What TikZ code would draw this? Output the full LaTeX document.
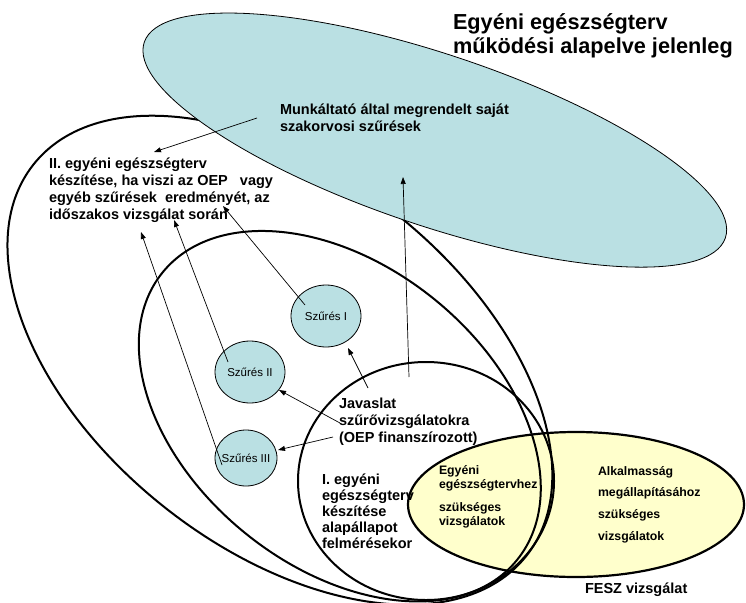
\documentclass[tikz,border=0pt]{standalone}
\usepackage{fontspec}
\setmainfont{Liberation Sans}
\usetikzlibrary{arrows.meta,shapes.geometric}
\definecolor{bluefill}{RGB}{186,224,227}
\definecolor{yelfill}{RGB}{255,255,204}
\newcommand\mlines[2]{\vtop{\baselineskip=#1\lineskiplimit=-100pt\lineskip=0pt\relax #2}}
\begin{document}
\begin{tikzpicture}[x=1pt,y=-1pt,
  every node/.style={inner sep=0pt,outer sep=0pt},
  bigring/.style={draw=black,line width=2pt},
  bluering/.style={fill=bluefill,draw=black,line width=0.8pt},
  yelring/.style={fill=yelfill,draw=black,line width=2.2pt},
  szcirc/.style={ellipse,fill=bluefill,draw=black,line width=0.8pt,minimum width=70pt,minimum height=62pt,font=\fontsize{11.5}{13}\selectfont},
  titletxt/.style={anchor=base west,font=\fontsize{21.7}{24}\selectfont\bfseries},
  boldtxt/.style={anchor=base west,font=\fontsize{14.5}{17}\selectfont\bfseries},
  smalltxt/.style={anchor=base west,font=\fontsize{12.3}{14}\selectfont\bfseries},
  arr/.style={-{Triangle[length=7pt,width=5pt]},line width=0.7pt}]
\fill[white] (0,0) rectangle (746,602);
\useasboundingbox (0,0) rectangle (746,602);
% rings
\draw[yelring] (576,504.5) ellipse [x radius=168, y radius=72.5];
\draw[bigring, rotate around={-38.5:(279.9,360.2)}] (279.9,360.2) ellipse [x radius=314.7, y radius=186.9];
\draw[bluering, rotate around={-18.6:(434.8,140.1)}] (434.8,140.1) ellipse [x radius=306.6, y radius=85.6];
\draw[bigring, rotate around={-39.06:(339.8,416.2)}] (339.8,416.2) ellipse [x radius=228.2, y radius=150.4];
\draw[bigring] (426,481) ellipse [x radius=128, y radius=119];
% small circles
\node[szcirc] (sz1) at (326,316) {\makebox[0pt]{Szűrés I}};
\node[szcirc] (sz2) at (250,372) {\makebox[0pt]{Szűrés II}};
\node[szcirc,minimum width=62pt,minimum height=56pt] (sz3) at (246,458) {\makebox[0pt]{Szűrés III}};
% texts
\node[titletxt] (title) at (453,29.5) {\mlines{24pt}{\hbox{Egyéni egészségterv}\hbox{működési alapelve jelenleg}}};
\node[boldtxt] (munk) at (280,114) {\mlines{17pt}{\hbox{Munkáltató által megrendelt saját}\hbox{szakorvosi szűrések}}};
\node[boldtxt] (two) at (49,168) {\mlines{17pt}{\hbox{II. egyéni egészségterv}\hbox{készítése, ha viszi az OEP\ \ \ vagy}\hbox{egyéb szűrések\ \ eredményét, az}\hbox{időszakos vizsgálat során}}};
\node[boldtxt] (jav) at (339,408) {\mlines{17pt}{\hbox{Javaslat}\hbox{szűrővizsgálatokra}\hbox{(OEP finanszírozott)}}};
\node[boldtxt] (one) at (322,484) {\mlines{16pt}{\hbox{I. egyéni}\hbox{egészségterv}\hbox{készítése}\hbox{alapállapot}\hbox{felmérésekor}}};
\node[smalltxt] (egy) at (439,474) {\mlines{14pt}{\hbox{Egyéni}\hbox{egészségtervhez}\vskip 9pt\hbox{szükséges}\hbox{vizsgálatok}}};
\node[smalltxt] (alk) at (598,475) {\mlines{21.7pt}{\hbox{Alkalmasság}\hbox{megállapításához}\hbox{szükséges}\hbox{vizsgálatok}}};
\node[boldtxt] (fesz) at (585,593) {FESZ vizsgálat};
% arrow end points
\coordinate (a1s) at (257,118); \coordinate (a1e) at (154,152);
\coordinate (a2s) at (409,377); \coordinate (a2e) at (403,177);
\coordinate (a3s) at (368,388); \coordinate (a3e) at (348,348);
\coordinate (a4s) at (340,423); \coordinate (a4e) at (279,390);
\coordinate (a5s) at (333,437); \coordinate (a5e) at (278,450);
\coordinate (a6s) at (305,305); \coordinate (a6e) at (223,206);
\coordinate (a7s) at (228,362); \coordinate (a7e) at (174,220);
\coordinate (a8s) at (222,465); \coordinate (a8e) at (141,232);
\draw[arr] (a1s) -- (a1e);
\draw[arr] (a2s) -- (a2e);
\draw[arr] (a3s) -- (a3e);
\draw[arr] (a4s) -- (a4e);
\draw[arr] (a5s) -- (a5e);
\draw[arr] (a6s) -- (a6e);
\draw[arr] (a7s) -- (a7e);
\draw[arr] (a8s) -- (a8e);
\end{tikzpicture}
\end{document}
